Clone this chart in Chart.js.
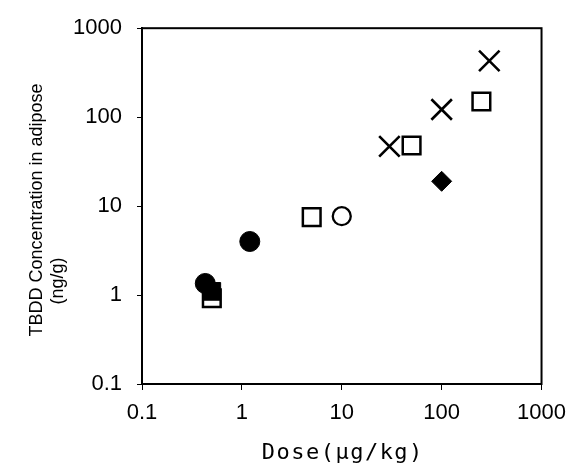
<!DOCTYPE html>
<html>
<head>
<meta charset="utf-8">
<script src="https://cdn.jsdelivr.net/npm/chart.js@4.4.0/dist/chart.umd.min.js"></script>
<style>
  html, body { margin: 0; padding: 0; background: #fff; }
</style>
</head>
<body>
<canvas id="doseChart" width="576" height="470"></canvas>
<script>
// Tick labels of both log axes
const xTicks = [0.1, 1, 10, 100, 1000];
const yTicks = [0.1, 1, 10, 100, 1000];

// Values (dose, concentration)
const filledCircleX = [0.43, 1.2];
const filledCircleY = [1.35, 4.0];
const filledSquareX = [0.5];
const filledSquareY = [1.1];
const openSquareX = [0.5, 5, 50, 250];
const openSquareY = [0.92, 7.5, 48, 150];
const openCircleX = [10];
const openCircleY = [7.7];
const crossX = [30, 100, 300];
const crossY = [47, 122, 430];
const diamondX = [100];
const diamondY = [19];

// Join two arrays into {x, y} points
function toPoints(xs, ys) {
    return xs.map((x, i) => ({ x: x, y: ys[i] }));
}

const tickFont = { family: "'Liberation Sans Narrow', 'Liberation Sans', Arial, sans-serif", size: 22 };

// Box around the plot area
const frame = {
    id: "frame",
    beforeDatasetsDraw(chart) {
        const { ctx, chartArea: a } = chart;
        ctx.save();
        ctx.strokeStyle = "#000";
        ctx.lineWidth = 2;
        ctx.strokeRect(a.left, a.top, a.right - a.left, a.bottom - a.top);
        ctx.restore();
    }
};

// Axis titles: the y one has two lines, the second sits lower as in the original
const axisTitles = {
    id: "axisTitles",
    afterDraw(chart) {
        const ctx = chart.ctx;
        const a = chart.chartArea;
        ctx.save();
        ctx.fillStyle = "#000";
        ctx.textAlign = "center";
        ctx.textBaseline = "middle";

        // x title (monospaced, like the original gothic face)
        ctx.font = "22px 'DejaVu Sans Mono', monospace";
        if ("letterSpacing" in ctx) ctx.letterSpacing = "1.5px";
        ctx.fillText("Dose(μg/kg)", (a.left + a.right) / 2 + 1, 453);
        if ("letterSpacing" in ctx) ctx.letterSpacing = "0px";

        // y title
        ctx.font = "18px 'Liberation Sans', Arial, sans-serif";
        ctx.translate(37, 210);
        ctx.rotate(-Math.PI / 2);
        ctx.fillText("TBDD Concentration in adipose", 0, 0);
        ctx.fillText("(ng/g)", -71, 21);
        ctx.restore();
    }
};

const ctx = document.getElementById("doseChart").getContext("2d");

new Chart(ctx, {
    type: "scatter",
    data: {
        datasets: [
            {
                label: "filled square",
                data: toPoints(filledSquareX, filledSquareY),
                pointStyle: "rect",
                pointRadius: 12.5,
                backgroundColor: "#000",
                borderColor: "#000",
                borderWidth: 1
            },
            {
                label: "open square",
                data: toPoints(openSquareX, openSquareY),
                pointStyle: "rect",
                pointRadius: 12.5,
                backgroundColor: "rgba(0,0,0,0)",
                borderColor: "#000",
                borderWidth: 2.5
            },
            {
                label: "filled circle",
                data: toPoints(filledCircleX, filledCircleY),
                pointStyle: "circle",
                pointRadius: 10,
                backgroundColor: "#000",
                borderColor: "#000",
                borderWidth: 1
            },
            {
                label: "open circle",
                data: toPoints(openCircleX, openCircleY),
                pointStyle: "circle",
                pointRadius: 9,
                backgroundColor: "rgba(0,0,0,0)",
                borderColor: "#000",
                borderWidth: 2.3
            },
            {
                label: "cross",
                data: toPoints(crossX, crossY),
                pointStyle: "crossRot",
                pointRadius: 14.5,
                borderColor: "#000",
                borderWidth: 2.6
            },
            {
                label: "diamond",
                data: toPoints(diamondX, diamondY),
                pointStyle: "rectRot",
                pointRadius: 10,
                backgroundColor: "#000",
                borderColor: "#000",
                borderWidth: 1
            }
        ]
    },
    options: {
        responsive: false,
        animation: false,
        events: [],
        layout: { padding: { top: 25, right: 29, left: 0, bottom: 0 } },
        plugins: {
            legend: { display: false },
            tooltip: { enabled: false }
        },
        scales: {
            x: {
                type: "logarithmic",
                min: xTicks[0],
                max: xTicks[xTicks.length - 1],
                afterBuildTicks: (scale) => { scale.ticks = xTicks.map(v => ({ value: v })); },
                afterFit: (scale) => { scale.height = 86; },
                grid: { drawOnChartArea: false, drawTicks: true, tickLength: 6, color: "#000", lineWidth: 1 },
                border: { display: true, color: "#000", width: 2 },
                ticks: {
                    color: "#000",
                    font: tickFont,
                    padding: 10,
                    maxRotation: 0,
                    autoSkip: false,
                    callback: (v) => String(v)
                }
            },
            y: {
                type: "logarithmic",
                min: yTicks[0],
                max: yTicks[yTicks.length - 1],
                afterBuildTicks: (scale) => { scale.ticks = yTicks.map(v => ({ value: v })); },
                afterFit: (scale) => { scale.width = 142; },
                grid: { drawOnChartArea: false, drawTicks: true, tickLength: 5, color: "#000", lineWidth: 1 },
                border: { display: true, color: "#000", width: 2 },
                ticks: {
                    color: "#000",
                    font: tickFont,
                    padding: 15,
                    autoSkip: false,
                    callback: (v) => String(v)
                }
            }
        }
    },
    plugins: [frame, axisTitles]
});
</script>
</body>
</html>
